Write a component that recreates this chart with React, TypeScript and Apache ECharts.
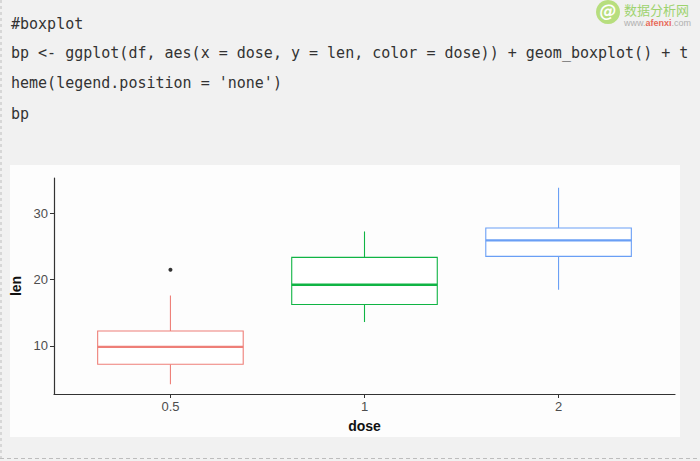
import React, { useEffect, useRef } from "react";
import * as echarts from "echarts";

// ToothGrowth: len by dose (boxplot statistics)
const doses = ["0.5", "1", "2"];
const whiskerLow = [4.2, 13.6, 18.5];
const q1 = [7.225, 16.25, 23.525];
const median = [9.85, 19.25, 25.95];
const q3 = [12.25, 23.375, 27.825];
const whiskerHigh = [17.6, 27.3, 33.9];
const outlierDose = ["0.5"];
const outlierLen = [21.5];
const yTicks = [10, 20, 30];
const codeLines = [
  "#boxplot",
  "bp <- ggplot(df, aes(x = dose, y = len, color = dose)) + geom_boxplot() + t",
  "heme(legend.position = 'none')",
  "bp",
];
const doseColors = ["#ee7f78", "#10b444", "#6a9ff5"];

export default function App() {
  const ref = useRef<HTMLDivElement>(null);
  useEffect(() => {
    if (!ref.current) return;
    const chart = echarts.init(ref.current, undefined, { renderer: "svg" });
    const dataMin = Math.min(...whiskerLow, ...outlierLen);
    const dataMax = Math.max(...whiskerHigh, ...outlierLen);
    const pad = (dataMax - dataMin) * 0.05;
    const xPositions = doses.map((_, i) => i + 1);
    const boxData = doses.map((_, i) => [
      i + 1,
      whiskerLow[i],
      q1[i],
      median[i],
      q3[i],
      whiskerHigh[i],
    ]);
    const outlierData = outlierDose.map((d, i) => [doses.indexOf(d) + 1, outlierLen[i]]);
    const textColor = "#4d4d4d";
    const lineHeights = [24, 53, 83, 114];
    const sans = "Liberation Sans, Arial, sans-serif";

    chart.setOption({
      animation: false,
      backgroundColor: "#f1f1f1",
      grid: { left: 54, top: 178, width: 621, height: 216, containLabel: false },
      xAxis: {
        type: "value",
        min: 0.4,
        max: doses.length + 0.6,
        name: "dose",
        nameLocation: "middle",
        nameGap: 25,
        nameTextStyle: { fontFamily: sans, fontWeight: "bold", fontSize: 14, color: "#111" },
        axisLine: { show: true, onZero: false, lineStyle: { color: "#333", width: 1.2 } },
        axisTick: { show: true, length: 4, customValues: xPositions, lineStyle: { color: "#333" } },
        axisLabel: {
          customValues: xPositions,
          margin: 6,
          fontSize: 13,
          color: textColor,
          fontFamily: sans,
          formatter: (v: number) => doses[Math.round(v) - 1] ?? "",
        },
        splitLine: { show: false },
      },
      yAxis: {
        type: "value",
        min: dataMin - pad,
        max: dataMax + pad,
        name: "len",
        nameLocation: "middle",
        nameRotate: 90,
        nameGap: 29,
        nameTextStyle: { fontFamily: sans, fontWeight: "bold", fontSize: 14, color: "#111" },
        axisLine: { show: true, onZero: false, lineStyle: { color: "#333", width: 1.2 } },
        axisTick: { show: true, length: 4, customValues: yTicks, lineStyle: { color: "#333" } },
        axisLabel: {
          customValues: yTicks,
          margin: 6,
          fontSize: 13,
          color: textColor,
          fontFamily: sans,
        },
        splitLine: { show: false },
      },
      graphic: [
        {
          type: "rect",
          z: -10,
          shape: { x: 10, y: 165, width: 670, height: 272 },
          style: { fill: "#fdfdfd" },
          silent: true,
        },
        {
          type: "line",
          z: -5,
          shape: { x1: 1, y1: 0, x2: 1, y2: 458 },
          style: { stroke: "#bdbdbd", lineWidth: 1, lineDash: [3, 3] },
        },
        {
          type: "line",
          z: -5,
          shape: { x1: 0, y1: 458.5, x2: 700, y2: 458.5 },
          style: { stroke: "#bdbdbd", lineWidth: 1, lineDash: [4, 3] },
        },
        ...codeLines.map((t, i) => ({
          type: "text",
          x: 11,
          y: lineHeights[i],
          style: {
            text: t,
            fill: "#333",
            font: '15px "DejaVu Sans Mono", monospace',
            verticalAlign: "middle",
          },
        })),
        {
          type: "circle",
          shape: { cx: 608, cy: 12, r: 12 },
          style: { fill: "#b7de7e" },
        },
        {
          type: "text",
          x: 608,
          y: 11,
          style: {
            text: "@",
            fill: "#fff",
            font: 'italic bold 17px "DejaVu Sans", sans-serif',
            align: "center",
            verticalAlign: "middle",
          },
        },
        {
          type: "text",
          x: 624,
          y: 2,
          style: {
            text: "数据分析网",
            fill: "#9ed36f",
            font: '13px "Noto Sans CJK SC", sans-serif',
            verticalAlign: "top",
            lineHeight: 14,
          },
        },
        {
          type: "text",
          x: 624,
          y: 18,
          style: {
            text: "{g|www.}{r|afenxi}{g|.com}",
            verticalAlign: "top",
            rich: {
              g: { fill: "#b0b0b0", fontFamily: sans, fontSize: 9, lineHeight: 10 },
              r: { fill: "#e86a5a", fontFamily: sans, fontSize: 9, fontWeight: "bold", lineHeight: 10 },
            },
          },
        },
      ],
      series: [
        {
          type: "custom",
          data: boxData,
          encode: { x: 0, y: [1, 2, 3, 4, 5] },
          renderItem: (params: any, api: any) => {
            const x = api.value(0);
            const pLo = api.coord([x, api.value(1)]);
            const p1 = api.coord([x, api.value(2)]);
            const pMd = api.coord([x, api.value(3)]);
            const p3 = api.coord([x, api.value(4)]);
            const pHi = api.coord([x, api.value(5)]);
            const half = api.size([0.375, 0])[0];
            const cx = pLo[0];
            const color = doseColors[params.dataIndex];
            return {
              type: "group",
              children: [
                {
                  type: "line",
                  shape: { x1: cx, y1: pLo[1], x2: cx, y2: p1[1] },
                  style: { stroke: color, lineWidth: 1.1 },
                },
                {
                  type: "line",
                  shape: { x1: cx, y1: p3[1], x2: cx, y2: pHi[1] },
                  style: { stroke: color, lineWidth: 1.1 },
                },
                {
                  type: "rect",
                  shape: { x: cx - half, y: p3[1], width: half * 2, height: p1[1] - p3[1] },
                  style: { fill: "#ffffff", stroke: color, lineWidth: 1.1 },
                },
                {
                  type: "line",
                  shape: { x1: cx - half, y1: pMd[1], x2: cx + half, y2: pMd[1] },
                  style: { stroke: color, lineWidth: 2.4 },
                },
              ],
            };
          },
        },
        {
          type: "scatter",
          data: outlierData,
          symbol: "circle",
          symbolSize: 4,
          itemStyle: { color: "#000" },
        },
      ],
    });
    return () => chart.dispose();
  }, []);
  return (
    <div
      ref={ref}
      style={{ position: "absolute", left: 0, top: 0, width: 700, height: 461 }}
    />
  );
}
